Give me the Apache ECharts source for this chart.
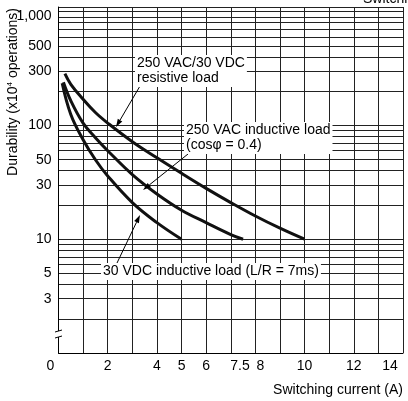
<!DOCTYPE html>
<html><head><meta charset="utf-8">
<script src="https://cdn.jsdelivr.net/npm/echarts@6/dist/echarts.min.js"></script>
<style>html,body{margin:0;padding:0;background:#fff}#c{width:408px;height:401px}</style>
</head><body><div id="c"></div>
<script>
// ---- data ----
const xGridValues = [0,1,2,3,4,5,6,7,8,9,10,11,12,13,14];
const xLabelValues = [0,2,4,5,6,7.5,8,10,12,14];
const yGridValues = [2,3,4,5,6,7,8,9,10,20,30,40,50,60,70,80,90,100,200,300,400,500,600,700,800,900,1000,1100];
const yLabelValues = [1,3,5,10,30,50,100,300,500,1000];
const yMin = 1, yMax = 1100;

const resistiveX = [0.26,0.5,1,1.5,2,3,4,5,6,7,8,9,10];
const resistiveY = [285,230,170,130,105,72,52,38,28,21,16,12.5,10];
const acInductiveX = [0.2,0.5,1,1.5,2,3,4,5,6,7,7.5];
const acInductiveY = [240,165,105,78,60,37,25,18,14,11,10];
const dcInductiveX = [0.15,0.5,1,1.5,2,3,4,5];
const dcInductiveY = [235,125,75,50,36,21,14,10];

const seriesNames = ['250 VAC/30 VDC resistive load','250 VAC inductive load (cosφ = 0.4)','30 VDC inductive load (L/R = 7ms)'];

// ---- chart ----
const FONT = '"Liberation Sans", Arial, sans-serif';
const lg = v => Math.log10(v);
const toPairs = (xs, ys) => xs.map((x, i) => [x, lg(ys[i])]);

const chart = echarts.init(document.getElementById('c'), null, {renderer: 'canvas'});

function arrow(x1, y1, x2, y2) {
  const ang = Math.atan2(y2 - y1, x2 - x1);
  const L = 8, W = 2.6;
  const bx = x2 - L * Math.cos(ang), by = y2 - L * Math.sin(ang);
  const px = -Math.sin(ang) * W, py = Math.cos(ang) * W;
  return [
    {type: 'line', shape: {x1, y1, x2: bx, y2: by}, style: {stroke: '#000', lineWidth: 1}, z: 20},
    {type: 'polygon', shape: {points: [[x2, y2], [bx + px, by + py], [bx - px, by - py]]}, style: {fill: '#000'}, z: 20}
  ];
}

const labelStyle = {fontFamily: FONT, fontSize: 14, fill: '#000', backgroundColor: '#fff', lineHeight: 15, padding: [1, 2, 1, 2]};

const option = {
  animation: false,
  backgroundColor: '#fff',
  textStyle: {fontFamily: FONT},
  grid: {left: 58.5, right: 5, top: 7, bottom: 48, containLabel: false, outerBoundsMode: 'none'},
  xAxis: {
    type: 'value', min: 0, max: 14,
    name: 'Switching current (A)',
    nameLocation: 'end',
    nameGap: 0,
    nameMoveOverlap: false,
    nameTextStyle: {fontFamily: FONT, fontSize: 14, color: '#000', align: 'right', verticalAlign: 'top', padding: [30, 0, 0, 0]},
    axisLine: {show: true, lineStyle: {color: '#000', width: 1}},
    axisTick: {show: false, customValues: xGridValues},
    axisLabel: {
      customValues: xLabelValues,
      color: '#000', fontFamily: FONT, fontSize: 14, margin: 6,
      formatter: v => {
        if (v === 0) return '{o|0}';
        if (v === 7.5) return '{l|7.5}';
        if (v === 8) return '{r|8}';
        if (v === 14) return '{e|14}';
        return String(v);
      },
      rich: {
        o: {fontFamily: FONT, fontSize: 14, color: '#000', padding: [0, 16, 0, 0]},
        l: {fontFamily: FONT, fontSize: 14, color: '#000', padding: [0, 6, 0, 0]},
        r: {fontFamily: FONT, fontSize: 14, color: '#000', padding: [0, 0, 0, 10]},
        e: {fontFamily: FONT, fontSize: 14, color: '#000', padding: [0, 26, 0, 0]}
      }
    },
    splitLine: {show: true, lineStyle: {color: '#222', width: 1}}
  },
  yAxis: {
    type: 'value', min: lg(yMin), max: lg(yMax),
    name: '{a|Durability (x10}{s|4}{a| operations)}',
    nameLocation: 'middle',
    nameRotate: 90,
    nameGap: 38,
    nameMoveOverlap: false,
    nameTextStyle: {
      padding: [0, 0, 0, 176],
      rich: {
        a: {fontFamily: FONT, fontSize: 14, color: '#000'},
        s: {fontFamily: FONT, fontSize: 8, color: '#000', verticalAlign: 'bottom', padding: [0, 0, 7, 0]}
      }
    },
    axisLine: {show: true, lineStyle: {color: '#000', width: 1}},
    axisTick: {show: false, customValues: yGridValues.map(lg)},
    axisLabel: {
      customValues: yLabelValues.map(lg),
      color: '#000', fontFamily: FONT, fontSize: 14, margin: 7,
      formatter: v => {
        const n = Math.round(Math.pow(10, v));
        if (n === 1) return '';
        if (n === 1000) return '{k|1,000}';
        return String(n);
      },
      rich: {
        k: {fontFamily: FONT, fontSize: 14, color: '#000', padding: [8, 0, 0, 0]}
      }
    },
    splitLine: {show: true, lineStyle: {color: '#222', width: 1}}
  },
  series: [
    {name: seriesNames[0], type: 'line', smooth: 0.4, symbol: 'none', data: toPairs(resistiveX, resistiveY), lineStyle: {color: '#111', width: 3}, z: 5},
    {name: seriesNames[1], type: 'line', smooth: 0.4, symbol: 'none', data: toPairs(acInductiveX, acInductiveY), lineStyle: {color: '#111', width: 3}, z: 5},
    {name: seriesNames[2], type: 'line', smooth: 0.4, symbol: 'none', data: toPairs(dcInductiveX, dcInductiveY), lineStyle: {color: '#111', width: 3}, z: 5}
  ],
  graphic: [
    {type: 'rect', shape: {x: 54, y: 331, width: 9, height: 6}, style: {fill: '#fff'}, z: 30},
    {type: 'line', shape: {x1: 55, y1: 332, x2: 62, y2: 330}, style: {stroke: '#000', lineWidth: 1}, z: 31},
    {type: 'line', shape: {x1: 55, y1: 338, x2: 62, y2: 336}, style: {stroke: '#000', lineWidth: 1}, z: 31},
    {type: 'text', x: 363, y: -8, style: {text: 'Switching', fontFamily: FONT, fontSize: 14, fill: '#000'}, z: 30},
    {type: 'text', x: 135, y: 55, style: Object.assign({text: '250 VAC/30 VDC\nresistive load'}, labelStyle), z: 25},
    {type: 'text', x: 184, y: 122, style: Object.assign({text: '250 VAC inductive load\n(cosφ = 0.4)'}, labelStyle), z: 25},
    {type: 'text', x: 101, y: 263, style: Object.assign({text: '30 VDC inductive load (L/R = 7ms)'}, labelStyle), z: 25},
    ...arrow(140, 86, 116, 127),
    ...arrow(188, 154, 143, 190),
    ...arrow(117, 263, 140, 215)
  ]
};
chart.setOption(option);
</script>
</body></html>
